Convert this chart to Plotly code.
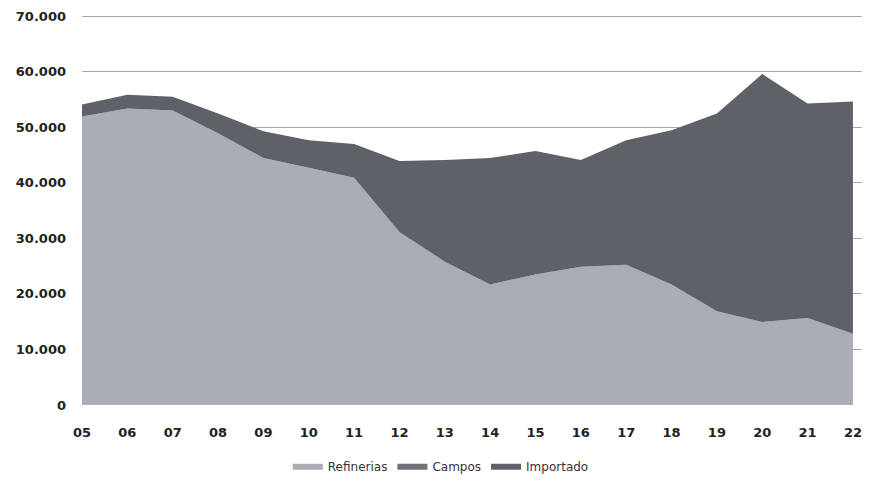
import plotly.graph_objects as go

years = ["05", "06", "07", "08", "09", "10", "11", "12", "13", "14", "15", "16", "17", "18", "19", "20", "21", "22"]
refinerias = [51960, 53380, 53020, 48930, 44480, 42700, 40930, 31140, 25800, 21710, 23490, 24910, 25270, 21710, 16900, 14950, 15660, 12810]
campos = [0] * 18
importado = [2130, 2490, 2500, 3560, 4810, 4990, 6050, 12810, 18330, 22770, 22240, 19220, 22420, 27760, 35590, 44660, 38610, 41820]
y_ticks = [0, 10000, 20000, 30000, 40000, 50000, 60000, 70000]
y_labels = ["0", "10.000", "20.000", "30.000", "40.000", "50.000", "60.000", "70.000"]

x = list(range(len(years)))
fig = go.Figure()
fig.add_trace(go.Scatter(x=x, y=refinerias, name="Refinerias", stackgroup="one",
                         mode="none", fillcolor="#aaacb6"))
fig.add_trace(go.Scatter(x=x, y=campos, name="Campos", stackgroup="one",
                         mode="none", fillcolor="#6e7078"))
fig.add_trace(go.Scatter(x=x, y=importado, name="Importado", stackgroup="one",
                         mode="none", fillcolor="#5f6169"))

tick_font = dict(size=13, family="DejaVu Sans", weight="bold", color="#222")
fig.update_layout(
    width=854, height=473,
    margin=dict(l=74, r=0, t=6, b=76, autoexpand=False),
    paper_bgcolor="white", plot_bgcolor="white",
    font=dict(family="DejaVu Sans", color="#222"),
    showlegend=True,
    legend=dict(orientation="h", x=0.46, xanchor="center", y=-0.195, yanchor="bottom",
                font=dict(size=12, color="#333", family="DejaVu Sans"), traceorder="normal",
                itemwidth=30),
    xaxis=dict(range=[0, 17.2], tickvals=x, ticktext=years, showgrid=False,
               zeroline=False, showline=False, ticks="", automargin=False,
               ticklabelstandoff=18, ticklabeloverflow="allow", tickfont=tick_font),
    yaxis=dict(range=[0, 70400], tickvals=y_ticks, ticktext=y_labels,
               showgrid=True, gridcolor="#a8a8a8", gridwidth=1, zeroline=False,
               showline=False, ticks="", ticklabelstandoff=15, automargin=False,
               ticklabeloverflow="allow", tickfont=tick_font),
)
fig.write_html("out.html")
